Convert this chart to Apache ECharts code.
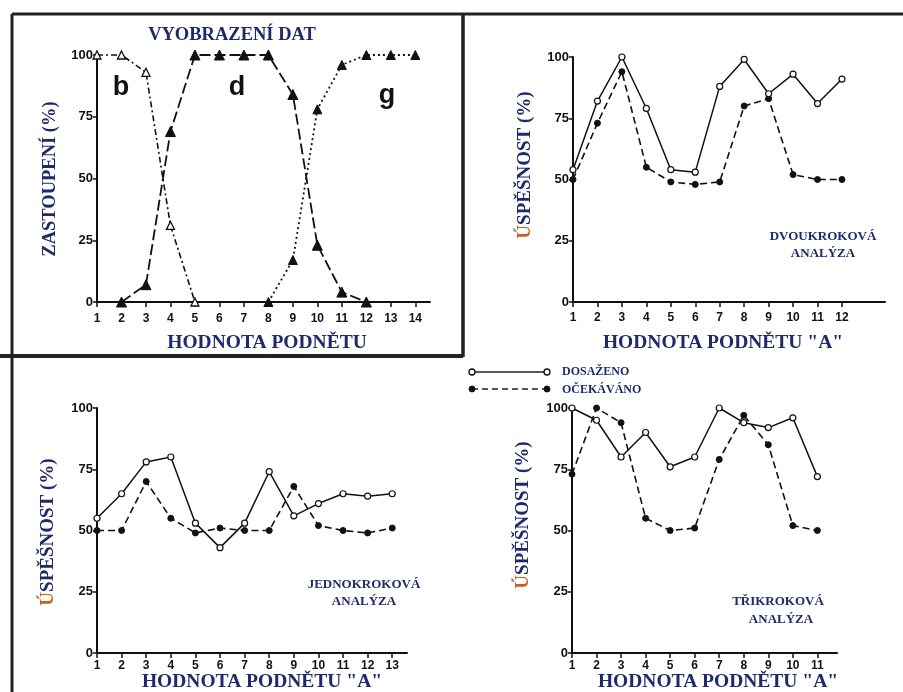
<!DOCTYPE html>
<html><head><meta charset="utf-8">
<script src="https://cdn.jsdelivr.net/npm/echarts@6/dist/echarts.min.js"></script>
<style>html,body{margin:0;padding:0;background:#fff}#c{width:903px;height:692px}</style>
</head><body><div id="c"></div>
<script>
// ---- Panel 1: VYOBRAZENÍ DAT ----
const p1Ticks = [1,2,3,4,5,6,7,8,9,10,11,12,13,14];
const p1X_b = [1,2,3,4,5];
const p1B   = [100,100,93,31,0];
const p1X_d = [2,3,4,5,6,7,8,9,10,11,12];
const p1D   = [0,7,69,100,100,100,100,84,23,4,0];
const p1X_g = [8,9,10,11,12,13,14];
const p1G   = [0,17,78,96,100,100,100];
// ---- Panel 2: DVOUKROKOVÁ ANALÝZA ----
const p2Ticks = [1,2,3,4,5,6,7,8,9,10,11,12];
const p2Dos = [54,82,100,79,54,53,88,99,85,93,81,91];
const p2Oce = [50,73,94,55,49,48,49,80,83,52,50,50];
// ---- Panel 3: JEDNOKROKOVÁ ANALÝZA ----
const p3Ticks = [1,2,3,4,5,6,7,8,9,10,11,12,13];
const p3Dos = [55,65,78,80,53,43,53,74,56,61,65,64,65];
const p3Oce = [50,50,70,55,49,51,50,50,68,52,50,49,51];
// ---- Panel 4: TŘIKROKOVÁ ANALÝZA ----
const p4Ticks = [1,2,3,4,5,6,7,8,9,10,11];
const p4Dos = [100,95,80,90,76,80,100,94,92,96,72];
const p4Oce = [73,100,94,55,50,51,79,97,85,52,50];
const yTicks = [0,25,50,75,100];

const NAVY = '#1e2a6a';
const SERIF = '"Liberation Serif","DejaVu Serif",serif';
const SANS = '"Liberation Sans","DejaVu Sans",sans-serif';
const BLACK = '#111';

function pairs(xs, ys){ return xs.map((x,i)=>[x, ys[i]]); }

const grids = [
  {left:97, top:55, width:333, height:247},
  {left:573, top:57, width:312, height:245},
  {left:97, top:408, width:310, height:245},
  {left:572, top:408, width:265, height:245}
];
const xMax = [14.6, 13.76, 13.6, 11.8];
const xTicks = [p1Ticks, p2Ticks, p3Ticks, p4Ticks];
const xMargin = [11, 10, 7, 7];

const xAxis = grids.map((g,i)=>({
  type:'value', gridIndex:i, min:1, max:xMax[i],
  axisLine:{show:true, onZero:false, lineStyle:{color:BLACK, width:2}},
  axisTick:{show:true, customValues:xTicks[i], length:5, lineStyle:{color:BLACK, width:1.5}},
  axisLabel:{customValues:xTicks[i], color:BLACK, fontFamily:SANS, fontWeight:'bold', fontSize:12, margin:xMargin[i]},
  splitLine:{show:false}
}));
const yAxis = grids.map((g,i)=>({
  type:'value', gridIndex:i, min:0, max:100, interval:25,
  axisLine:{show:true, lineStyle:{color:BLACK, width:2}},
  axisTick:{show:true, length:4, lineStyle:{color:BLACK, width:1.5}},
  axisLabel:{color:BLACK, fontFamily:SANS, fontWeight:'bold', fontSize:13, margin:4},
  splitLine:{show:false}
}));

const series = [
  {type:'line', xAxisIndex:0, yAxisIndex:0, data:pairs(p1X_b,p1B), clip:false,
   symbol:'triangle', symbolSize:8, itemStyle:{color:'#fff', borderColor:BLACK, borderWidth:1.3},
   lineStyle:{color:BLACK, width:1.6, type:[6,3,2,3]}},
  {type:'line', xAxisIndex:0, yAxisIndex:0, data:pairs(p1X_d,p1D), clip:false,
   symbol:'triangle', symbolSize:10, itemStyle:{color:BLACK, borderColor:BLACK},
   lineStyle:{color:BLACK, width:1.8, type:[11,4]}},
  {type:'line', xAxisIndex:0, yAxisIndex:0, data:pairs(p1X_g,p1G), clip:false,
   symbol:'triangle', symbolSize:9, itemStyle:{color:BLACK, borderColor:BLACK},
   lineStyle:{color:BLACK, width:1.8, type:[2,3]}}
];
const dos = [p2Dos, p3Dos, p4Dos];
const oce = [p2Oce, p3Oce, p4Oce];
for (let k=0;k<3;k++){
  const t = xTicks[k+1];
  series.push({type:'line', xAxisIndex:k+1, yAxisIndex:k+1, data:pairs(t,oce[k]), clip:false,
    symbol:'circle', symbolSize:6, itemStyle:{color:BLACK, borderColor:BLACK},
    lineStyle:{color:BLACK, width:1.6, type:[7,4]}, z:2});
  series.push({type:'line', xAxisIndex:k+1, yAxisIndex:k+1, data:pairs(t,dos[k]), clip:false,
    symbol:'circle', symbolSize:6, itemStyle:{color:'#fff', borderColor:BLACK, borderWidth:1.2},
    lineStyle:{color:BLACK, width:1.5}, z:3});
}

function txt(x,y,text,font,fill){
  return {type:'text', x:x, y:y, z:10,
    style:{text:text, font:font, fill:fill||NAVY, align:'center', verticalAlign:'middle'}};
}
function vtxt(x,y,text,font,rich){
  const s = {text:text, font:font, fill:NAVY, align:'center', verticalAlign:'middle'};
  if (rich) s.rich = rich;
  return {type:'text', x:x, y:y, rotation:Math.PI/2, z:10, style:s};
}
function ln(x1,y1,x2,y2,w,dash){
  return {type:'line', z:5, shape:{x1:x1,y1:y1,x2:x2,y2:y2}, style:{stroke:'#222', lineWidth:w, lineDash:dash||null}};
}
const uspRich = {
  o:{fill:'#c2621d', font:'bold 19px '+SERIF},
  n:{fill:NAVY, font:'bold 19px '+SERIF}
};
const graphic = [
  // frames
  ln(12,14,903,14,3),
  ln(12,14,12,357,3),
  ln(463,14,463,357,3.5),
  ln(0,356,463,356,4),
  ln(12,356,12,692,3),
  // panel 1 text
  txt(232,35,'VYOBRAZENÍ DAT','bold 18.5px '+SERIF),
  vtxt(50,179,'ZASTOUPENÍ (%)','bold 18.5px '+SERIF),
  txt(267,343,'HODNOTA PODNĚTU','bold 19.5px '+SERIF),
  txt(121,88,'b','bold 27px '+SANS,BLACK),
  txt(237,88,'d','bold 27px '+SANS,BLACK),
  txt(387,96,'g','bold 27px '+SANS,BLACK),
  // panel 2
  vtxt(525,165,'{o|Ú}{n|SPĚŠNOST (%)}','bold 19px '+SERIF,uspRich),
  txt(723,343,'HODNOTA PODNĚTU "A"','bold 19.5px '+SERIF),
  txt(823,237,'DVOUKROKOVÁ','bold 13px '+SERIF),
  txt(823,254,'ANALÝZA','bold 13px '+SERIF),
  // panel 3
  vtxt(48,532,'{o|Ú}{n|SPĚŠNOST (%)}','bold 19px '+SERIF,uspRich),
  txt(262,682,'HODNOTA PODNĚTU "A"','bold 19.5px '+SERIF),
  txt(364,585,'JEDNOKROKOVÁ','bold 13px '+SERIF),
  txt(364,602,'ANALÝZA','bold 13px '+SERIF),
  // panel 4
  vtxt(523,515,'{o|Ú}{n|SPĚŠNOST (%)}','bold 19px '+SERIF,uspRich),
  txt(718,682,'HODNOTA PODNĚTU "A"','bold 19.5px '+SERIF),
  txt(778,602,'TŘIKROKOVÁ','bold 13px '+SERIF),
  txt(781,620,'ANALÝZA','bold 13px '+SERIF),
  // legend
  ln(472,372,547,372,1.5),
  {type:'circle', z:6, shape:{cx:472,cy:372,r:3}, style:{fill:'#fff', stroke:'#111', lineWidth:1.3}},
  {type:'circle', z:6, shape:{cx:547,cy:372,r:3}, style:{fill:'#fff', stroke:'#111', lineWidth:1.3}},
  ln(472,389,547,389,1.6,[6,4]),
  {type:'circle', z:6, shape:{cx:472,cy:389,r:3}, style:{fill:'#111', stroke:'#111'}},
  {type:'circle', z:6, shape:{cx:547,cy:389,r:3}, style:{fill:'#111', stroke:'#111'}},
  {type:'text', x:562, y:372, z:10, style:{text:'DOSAŽENO', font:'bold 12px '+SERIF, fill:NAVY, align:'left', verticalAlign:'middle'}},
  {type:'text', x:562, y:390, z:10, style:{text:'OČEKÁVÁNO', font:'bold 12px '+SERIF, fill:NAVY, align:'left', verticalAlign:'middle'}}
];

const chart = echarts.init(document.getElementById('c'), null, {renderer:'canvas', width:903, height:692});
chart.setOption({
  animation:false,
  backgroundColor:'#fff',
  grid:grids, xAxis:xAxis, yAxis:yAxis, series:series, graphic:graphic
});
</script></body></html>
